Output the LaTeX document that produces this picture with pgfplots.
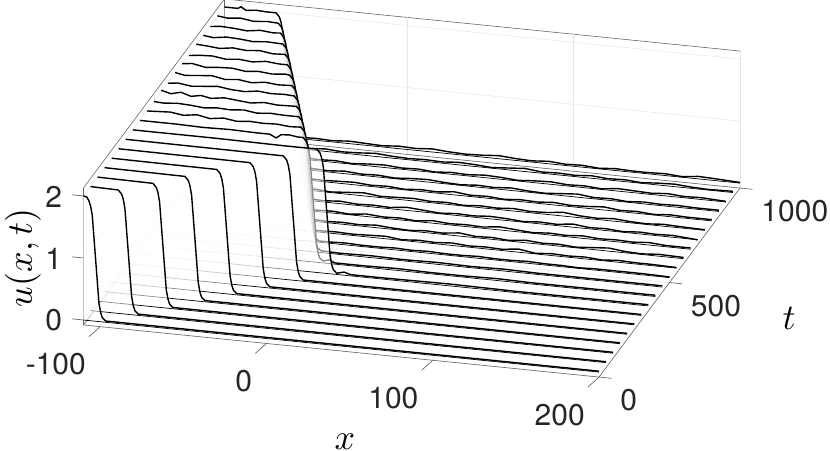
\documentclass[border=0pt]{standalone}
\usepackage{fontspec}
\setmainfont{TeX Gyre Heros}
\usepackage{pgfplots}
\pgfplotsset{compat=1.18}

% one waterfall row: t, then the curve; translucent curtain, bottom edge, curve
\newcommand{\ribbon}[2]{%
  \addplot3[draw=none,fill=white,fill opacity=0.55] coordinates {#2 (200,#1,0) (-110,#1,0)};
  \addplot3[black,line width=0.7pt] coordinates {(-110,#1,0) (200,#1,0)};
  \addplot3[black,line width=1.4pt,line join=round] coordinates {#2};
}
\pgfplotsset{tickline/.style={black!65,line width=0.6pt}}

\begin{document}
\begin{tikzpicture}
\useasboundingbox (-266.4pt,-111.5pt) rectangle (563.6pt,338.5pt);
\begin{axis}[
  at={(0pt,0pt)},anchor=origin,
  x={(1.663pt,-0.168pt)},y={(0.141pt,0.189pt)},z={(0pt,62pt)},
  xmin=-110,xmax=200,ymin=0,ymax=1000,zmin=-0.08,zmax=2.13,
  xtick={-100,0,100,200},xticklabels={-100,0,100,200},
  ytick={0,500,1000},yticklabels={0,500,1000},
  ztick={0,1,2},zticklabels={0,1,2},
  xtick pos=left,ytick pos=right,ztick pos=left,
  yticklabel pos=left,
  grid=major,grid style={black!10,line width=0.5pt},
  axis line style={black!60,line width=0.6pt},
  tick style={draw=none},
  tick align=outside,major tick length=13pt,
  clip=false,
  tick label style={font=\fontsize{30}{32}\selectfont,text=black!85},
  xticklabel style={anchor=north east,xshift=-3pt,yshift=-13pt},
  yticklabel style={anchor=west,xshift=5pt,yshift=-22pt},
  zticklabel style={anchor=east,xshift=-10pt,yshift=10pt},
  xlabel={$x$},ylabel={$t$},zlabel={$u(x,t)$},
  xlabel style={at={(axis cs:0,0,0)},anchor=center,rotate=0,inner sep=0pt,xshift=78.6pt,yshift=-103.5pt,scale=3.6},
  ylabel style={at={(axis cs:0,0,0)},anchor=center,rotate=0,inner sep=0pt,xshift=522.6pt,yshift=20.5pt,scale=3.6},
  zlabel style={at={(axis cs:0,0,0)},anchor=center,inner sep=0pt,rotate=-90,xshift=-243.4pt,yshift=80.5pt,rotate=90,scale=3.6},
]
% tick marks, one direction each
\addplot3[tickline] coordinates {(-100,0,-0.08)(-102,-55,-0.08)};
\addplot3[tickline] coordinates {(0,0,-0.08)(-2,-55,-0.08)};
\addplot3[tickline] coordinates {(100,0,-0.08)(98,-55,-0.08)};
\addplot3[tickline] coordinates {(200,0,-0.08)(198,-55,-0.08)};
\addplot3[tickline] coordinates {(200,0,-0.08)(207.5,0,-0.08)};
\addplot3[tickline] coordinates {(200,500,-0.08)(207.5,500,-0.08)};
\addplot3[tickline] coordinates {(200,1000,-0.08)(207.5,1000,-0.08)};
\addplot3[tickline] coordinates {(-110,0,0)(-117,0,0)};
\addplot3[tickline] coordinates {(-110,0,1)(-117,0,1)};
\addplot3[tickline] coordinates {(-110,0,2)(-117,0,2)};
\ribbon{1000}{(-110,1000,2.0)(-102,1000,2.0)(-100,1000,2.03)(-97,1000,1.98)(-91,1000,2.0)(-85,1000,1.99)(-79,1000,1.99)(-77,1000,1.93)(-76,1000,1.85)(-75,1000,1.7)(-73,1000,1.0)(-71,1000,0.3)(-70,1000,0.15)(-69,1000,0.07)(-67,1000,0.02)(-55,1000,0.03)(-45,1000,0.02)(-35,1000,0.04)(-25,1000,0.03)(-15,1000,0.02)(-5,1000,0.04)(5,1000,0.03)(15,1000,0.05)(25,1000,0.03)(35,1000,0.02)(45,1000,0.03)(55,1000,0.05)(65,1000,0.03)(75,1000,0.02)(85,1000,0.04)(95,1000,0.02)(105,1000,0.03)(115,1000,0.01)(125,1000,0.03)(135,1000,0.02)(145,1000,0.02)(155,1000,0.03)(165,1000,0.01)(175,1000,0.04)(185,1000,0.03)(200,1000,0.01)}
\ribbon{950}{(-110,950,2.01)(-104,950,1.99)(-96,950,2.01)(-88,950,1.98)(-80,950,2.0)(-73.4,950,1.99)(-71.4,950,1.93)(-70.4,950,1.85)(-69.4,950,1.7)(-67.4,950,1.0)(-65.4,950,0.3)(-64.4,950,0.15)(-63.4,950,0.07)(-61.4,950,0.03)(-55,950,0.02)(-45,950,0.04)(-35,950,0.02)(-25,950,0.03)(-15,950,0.05)(-5,950,0.03)(5,950,0.02)(15,950,0.03)(25,950,0.02)(35,950,0.04)(45,950,0.03)(55,950,0.01)(65,950,0.03)(75,950,0.05)(85,950,0.02)(95,950,0.03)(105,950,0.02)(115,950,0.04)(125,950,0.02)(135,950,0.03)(145,950,0.01)(155,950,0.03)(165,950,0.04)(175,950,0.02)(185,950,0.01)(200,950,0.02)}
\ribbon{900}{(-110,900,1.99)(-104,900,2.01)(-96,900,2.0)(-88,900,1.98)(-80,900,2.01)(-72,900,1.99)(-67.8,900,2.0)(-65.8,900,1.93)(-64.8,900,1.85)(-63.8,900,1.7)(-61.8,900,1.0)(-59.8,900,0.3)(-58.8,900,0.15)(-57.8,900,0.07)(-55.8,900,0.03)(-45,900,0.02)(-35,900,0.03)(-25,900,0.01)(-15,900,0.03)(-5,900,0.04)(5,900,0.02)(15,900,0.03)(25,900,0.01)(35,900,0.03)(45,900,0.02)(55,900,0.04)(65,900,0.03)(75,900,0.01)(85,900,0.03)(95,900,0.04)(105,900,0.02)(115,900,0.03)(125,900,0.01)(135,900,0.04)(145,900,0.03)(155,900,0.02)(165,900,0.04)(175,900,0.02)(185,900,0.03)(200,900,0.01)}
\ribbon{850}{(-110,850,2.0)(-104,850,1.98)(-96,850,2.01)(-88,850,2.0)(-80,850,1.98)(-72,850,2.0)(-62.2,850,1.99)(-60.2,850,1.93)(-59.2,850,1.85)(-58.2,850,1.7)(-56.2,850,1.0)(-54.2,850,0.3)(-53.2,850,0.15)(-52.2,850,0.07)(-50.2,850,0.02)(-45,850,0.03)(-35,850,0.02)(-25,850,0.04)(-15,850,0.02)(-5,850,0.03)(5,850,0.01)(15,850,0.03)(25,850,0.04)(35,850,0.02)(45,850,0.01)(55,850,0.03)(65,850,0.02)(75,850,0.04)(85,850,0.02)(95,850,0.01)(105,850,0.03)(115,850,0.05)(125,850,0.02)(135,850,0.03)(145,850,0.01)(155,850,0.03)(165,850,0.02)(175,850,0.03)(185,850,0.02)(200,850,0.02)}
\ribbon{800}{(-110,800,2.01)(-104,800,2.0)(-96,800,1.98)(-88,800,2.01)(-80,800,1.99)(-72,800,2.01)(-64,800,1.98)(-56.6,800,1.99)(-54.6,800,1.93)(-53.6,800,1.85)(-52.6,800,1.7)(-50.6,800,1.0)(-48.6,800,0.3)(-47.6,800,0.15)(-46.6,800,0.07)(-44.6,800,0.03)(-35,800,0.02)(-25,800,0.03)(-15,800,0.04)(-5,800,0.02)(5,800,0.03)(15,800,0.01)(25,800,0.03)(35,800,0.02)(45,800,0.05)(55,800,0.02)(65,800,0.03)(75,800,0.01)(85,800,0.03)(95,800,0.02)(105,800,0.04)(115,800,0.02)(125,800,0.03)(135,800,0.05)(145,800,0.02)(155,800,0.03)(165,800,0.01)(175,800,0.03)(185,800,0.02)(200,800,0.02)}
\ribbon{750}{(-110,750,1.98)(-104,750,2.0)(-96,750,2.01)(-88,750,1.98)(-80,750,2.0)(-72,750,1.98)(-64,750,2.01)(-56,750,1.99)(-51,750,1.99)(-49,750,1.93)(-48,750,1.85)(-47,750,1.7)(-45,750,1.0)(-43,750,0.3)(-42,750,0.15)(-41,750,0.07)(-39,750,0.02)(-35,750,0.03)(-25,750,0.01)(-15,750,0.03)(-5,750,0.05)(5,750,0.02)(15,750,0.03)(25,750,0.04)(35,750,0.02)(45,750,0.03)(55,750,0.01)(65,750,0.03)(75,750,0.02)(85,750,0.04)(95,750,0.02)(105,750,0.03)(115,750,0.06)(125,750,0.03)(135,750,0.02)(145,750,0.04)(155,750,0.02)(165,750,0.01)(175,750,0.03)(185,750,0.02)(200,750,0.01)}
\ribbon{700}{(-110,700,2.0)(-104,700,2.02)(-96,700,1.98)(-88,700,2.0)(-80,700,2.01)(-72,700,1.98)(-64,700,2.0)(-56,700,1.98)(-48,700,2.0)(-45.4,700,1.99)(-43.4,700,1.93)(-42.4,700,1.85)(-41.4,700,1.7)(-39.4,700,1.0)(-37.4,700,0.3)(-36.4,700,0.15)(-35.4,700,0.07)(-33.4,700,0.03)(-25,700,0.02)(-15,700,0.04)(-5,700,0.02)(5,700,0.03)(15,700,0.02)(25,700,0.05)(35,700,0.03)(45,700,0.01)(55,700,0.03)(65,700,0.02)(75,700,0.04)(85,700,0.03)(95,700,0.01)(105,700,0.03)(115,700,0.02)(125,700,0.05)(135,700,0.02)(145,700,0.03)(155,700,0.01)(165,700,0.03)(175,700,0.02)(185,700,0.03)(200,700,0.0)}
\ribbon{650}{(-110,650,2.01)(-104,650,1.98)(-96,650,2.0)(-88,650,2.02)(-80,650,1.98)(-72,650,2.0)(-64,650,1.97)(-56,650,2.0)(-48,650,1.98)(-39.8,650,1.99)(-37.8,650,1.93)(-36.8,650,1.85)(-35.8,650,1.7)(-33.8,650,1.0)(-31.8,650,0.3)(-30.8,650,0.15)(-29.8,650,0.07)(-27.8,650,0.02)(-15,650,0.03)(-5,650,0.01)(5,650,0.04)(15,650,0.02)(25,650,0.03)(35,650,0.01)(45,650,0.04)(55,650,0.02)(65,650,0.03)(75,650,0.02)(85,650,0.05)(95,650,0.03)(105,650,0.01)(115,650,0.03)(125,650,0.02)(135,650,0.04)(145,650,0.02)(155,650,0.03)(165,650,0.02)(175,650,0.04)(185,650,0.02)(200,650,0.02)}
\ribbon{600}{(-110,600,1.99)(-104,600,2.01)(-96,600,1.98)(-88,600,2.0)(-80,600,2.02)(-72,600,1.99)(-64,600,1.98)(-56,600,2.01)(-48,600,1.99)(-40,600,2.0)(-34.2,600,1.99)(-32.2,600,1.93)(-31.2,600,1.85)(-30.2,600,1.7)(-28.2,600,1.0)(-26.2,600,0.3)(-25.2,600,0.15)(-24.2,600,0.07)(-22.2,600,0.03)(-15,600,0.02)(-5,600,0.03)(5,600,0.02)(15,600,0.04)(25,600,0.02)(35,600,0.01)(45,600,0.03)(55,600,0.02)(65,600,0.05)(75,600,0.02)(85,600,0.03)(95,600,0.01)(105,600,0.04)(115,600,0.02)(125,600,0.03)(135,600,0.01)(145,600,0.03)(155,600,0.05)(165,600,0.02)(175,600,0.01)(185,600,0.03)(200,600,0.02)}
\ribbon{550}{(-110,550,2.03)(-104,550,1.99)(-98,550,2.03)(-92,550,1.98)(-86,550,2.01)(-80,550,1.98)(-72,550,2.01)(-64,550,1.99)(-56,550,1.97)(-48,550,2.0)(-40,550,1.98)(-28.6,550,1.99)(-26.6,550,1.93)(-25.6,550,1.85)(-24.6,550,1.7)(-22.6,550,1.0)(-20.6,550,0.3)(-19.6,550,0.15)(-18.6,550,0.07)(-16.6,550,0.02)(-5,550,0.03)(5,550,0.02)(15,550,0.03)(25,550,0.04)(35,550,0.01)(45,550,0.03)(55,550,0.02)(65,550,0.04)(75,550,0.02)(85,550,0.03)(95,550,0.02)(105,550,0.05)(115,550,0.01)(125,550,0.03)(135,550,0.02)(145,550,0.03)(155,550,0.01)(165,550,0.03)(175,550,0.02)(185,550,0.02)(200,550,0.01)}
\ribbon{500}{(-110,500,2.0)(-104,500,1.99)(-96,500,2.01)(-88,500,2.0)(-80,500,1.98)(-72,500,2.0)(-64,500,1.99)(-56,500,2.01)(-48,500,1.98)(-40,500,2.0)(-32,500,1.99)(-23,500,1.99)(-21,500,1.93)(-20,500,1.85)(-19,500,1.7)(-17,500,1.0)(-15,500,0.3)(-14,500,0.15)(-13,500,0.07)(-11,500,0.02)(-5,500,0.02)(5,500,0.03)(15,500,0.02)(25,500,0.02)(35,500,0.03)(45,500,0.02)(55,500,0.03)(65,500,0.02)(75,500,0.02)(85,500,0.03)(95,500,0.02)(105,500,0.02)(115,500,0.03)(125,500,0.02)(135,500,0.02)(145,500,0.01)(155,500,0.02)(165,500,0.02)(175,500,0.02)(185,500,0.02)(200,500,0.01)}
\ribbon{450}{(-110,450,2.0)(-96,450,2.02)(-88,450,1.99)(-80,450,2.02)(-72,450,1.98)(-64,450,2.01)(-56,450,1.98)(-48,450,2.0)(-40,450,1.99)(-32,450,2.0)(-24,450,1.98)(-17.4,450,1.99)(-15.4,450,1.93)(-14.4,450,1.85)(-13.4,450,1.7)(-11.4,450,1.0)(-9.4,450,0.3)(-8.4,450,0.15)(-7.4,450,0.07)(-5.4,450,0.03)(5,450,0.02)(25,450,0.03)(45,450,0.02)(65,450,0.03)(85,450,0.02)(105,450,0.03)(125,450,0.02)(145,450,0.02)(165,450,0.02)(200,450,0.02)}
\ribbon{400}{(-110,400,2.0)(-88,400,2.0)(-72,400,1.99)(-56,400,2.0)(-40,400,1.99)(-32,400,1.99)(-28,400,1.94)(-25,400,2.0)(-20,400,2.01)(-15,400,1.99)(-11.8,400,1.99)(-9.8,400,1.93)(-8.8,400,1.85)(-7.8,400,1.7)(-5.8,400,1.0)(-3.8,400,0.3)(-2.8,400,0.15)(-1.8,400,0.07)(0.2,400,0.03)(4,400,0.06)(7,400,0.02)(25,400,0.02)(45,400,0.03)(65,400,0.02)(85,400,0.02)(105,400,0.03)(125,400,0.02)(145,400,0.02)(165,400,0.02)(200,400,0.02)}
\ribbon{350}{(-110,350,2.0)(-60,350,2.0)(-20,350,1.99)(0.6,350,1.99)(2.6,350,1.93)(3.6,350,1.85)(4.6,350,1.7)(6.6,350,1.0)(8.6,350,0.3)(9.6,350,0.15)(10.6,350,0.07)(12.6,350,0.02)(17,350,0.05)(21,350,0.02)(40,350,0.02)(80,350,0.03)(120,350,0.02)(160,350,0.02)(200,350,0.02)}
\ribbon{300}{(-110,300,2.0)(-15.3,300,1.99)(-13.3,300,1.93)(-12.3,300,1.85)(-11.3,300,1.7)(-9.3,300,1.0)(-7.3,300,0.3)(-6.3,300,0.15)(-5.3,300,0.07)(-3.3,300,0.02)(200,300,0.015)}
\ribbon{250}{(-110,250,2.0)(-31.1,250,1.99)(-29.1,250,1.93)(-28.1,250,1.85)(-27.1,250,1.7)(-25.1,250,1.0)(-23.1,250,0.3)(-22.1,250,0.15)(-21.1,250,0.07)(-19.1,250,0.02)(200,250,0.015)}
\ribbon{200}{(-110,200,2.0)(-46.8,200,1.99)(-44.8,200,1.93)(-43.8,200,1.85)(-42.8,200,1.7)(-40.8,200,1.0)(-38.8,200,0.3)(-37.8,200,0.15)(-36.8,200,0.07)(-34.8,200,0.02)(200,200,0.015)}
\ribbon{150}{(-110,150,2.0)(-61.7,150,1.99)(-59.7,150,1.93)(-58.7,150,1.85)(-57.7,150,1.7)(-55.7,150,1.0)(-53.7,150,0.3)(-52.7,150,0.15)(-51.7,150,0.07)(-49.7,150,0.02)(200,150,0.015)}
\ribbon{100}{(-110,100,2.0)(-76.7,100,1.99)(-74.7,100,1.93)(-73.7,100,1.85)(-72.7,100,1.7)(-70.7,100,1.0)(-68.7,100,0.3)(-67.7,100,0.15)(-66.7,100,0.07)(-64.7,100,0.02)(200,100,0.015)}
\ribbon{50}{(-110,50,2.0)(-93.3,50,1.99)(-91.3,50,1.93)(-90.3,50,1.85)(-89.3,50,1.7)(-87.3,50,1.0)(-85.3,50,0.3)(-84.3,50,0.15)(-83.3,50,0.07)(-81.3,50,0.02)(200,50,0.015)}
\addplot3[black!35,line width=1.2pt] coordinates {(-110,0,0)(-110,0,2)};
\ribbon{0}{(-110,0,2.0)(-108,0,1.99)(-106.7,0,1.93)(-105.7,0,1.85)(-104.7,0,1.7)(-102.7,0,1.0)(-100.7,0,0.3)(-99.7,0,0.15)(-98.7,0,0.07)(-96.7,0,0.02)(200,0,0.015)}
\end{axis}
\end{tikzpicture}
\end{document}
